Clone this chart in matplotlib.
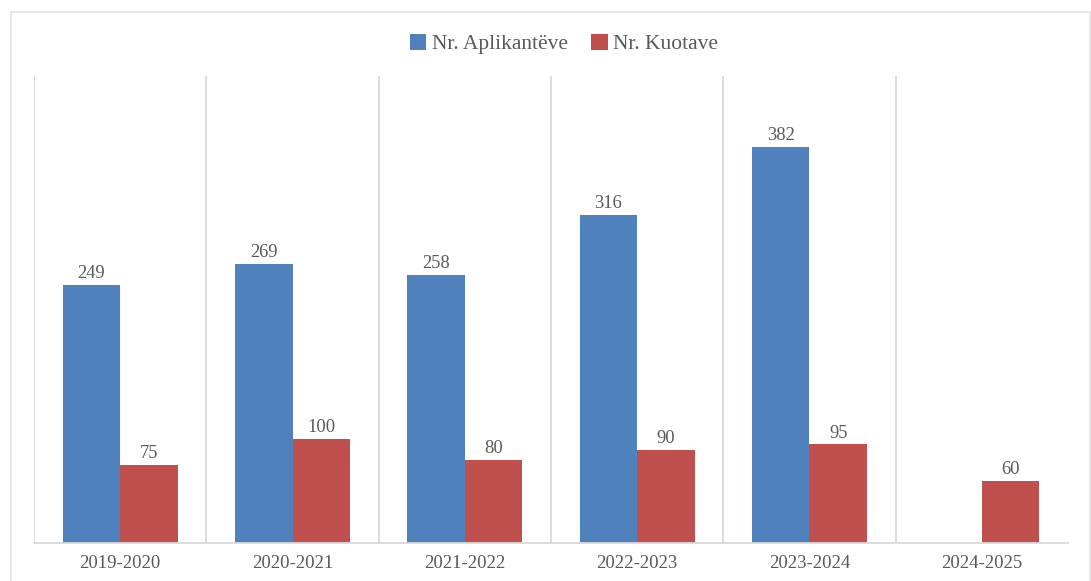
import matplotlib
matplotlib.use("Agg")
import matplotlib.pyplot as plt
import numpy as np
from matplotlib.patches import Rectangle

years = ["2019-2020", "2020-2021", "2021-2022", "2022-2023", "2023-2024", "2024-2025"]
aplikante = [249, 269, 258, 316, 382, np.nan]
kuota = [75, 100, 80, 90, 95, 60]

BLUE = "#4F81BD"
RED = "#C0504D"
GRID = "#D9D9D9"
TXT = "#595959"
plt.rcParams["font.family"] = ["Liberation Serif", "DejaVu Serif"]

fig = plt.figure(figsize=(10.91, 5.81), dpi=100)
# chart border (bottom edge falls outside the canvas)
fig.patches.append(Rectangle((11 / 1091, -0.05), 1079 / 1091, 1.05 - 12 / 581,
                             transform=fig.transFigure, fill=False,
                             edgecolor="#E3E3E3", lw=1.2))
ax = fig.add_axes([34 / 1091, 1 - 543 / 581, 1034 / 1091, (543 - 76) / 581])

x = np.arange(len(years))
w = 1 / 3
b1 = ax.bar(x - w / 2, aplikante, w, color=BLUE, label="Nr. Aplikantëve")
b2 = ax.bar(x + w / 2, kuota, w, color=RED, label="Nr. Kuotave")
for bars, vals in ((b1, aplikante), (b2, kuota)):
    for r, v in zip(bars, vals):
        if np.isnan(v):
            continue
        ax.annotate(f"{int(v)}", (r.get_x() + r.get_width() / 2, v),
                    xytext=(0, 2), textcoords="offset points",
                    ha="center", va="bottom", fontsize=13.3, color=TXT)

ax.set_xlim(-0.5, len(years) - 0.5)
ax.set_ylim(0, 450)
for b in np.arange(-0.5, len(years) - 1, 1):
    ax.axvline(b, color=GRID, lw=1.3, zorder=0)
ax.set_yticks([])
ax.set_xticks(x)
ax.set_xticklabels(years, fontsize=13.5, color=TXT)
ax.tick_params(axis="x", length=0, pad=9)
for s in ("top", "right", "left"):
    ax.spines[s].set_visible(False)
ax.spines["bottom"].set_color(GRID)
ax.spines["bottom"].set_linewidth(1.3)

fig.legend(loc="center", bbox_to_anchor=(0.517, 1 - 44 / 581), ncol=2, frameon=False,
           fontsize=15.5, labelcolor=TXT, handlelength=0.75, handleheight=0.75,
           handletextpad=0.25, columnspacing=1.1)

fig.savefig("out.png", dpi=100)
